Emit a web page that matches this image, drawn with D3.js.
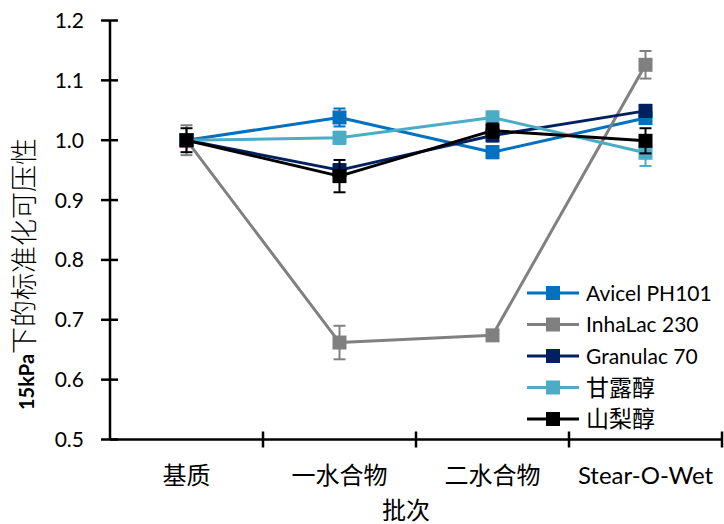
<!DOCTYPE html>
<html>
<head>
<meta charset="utf-8">
<script src="https://cdn.jsdelivr.net/npm/d3@7/dist/d3.min.js"></script>
<style>
  html, body { margin: 0; padding: 0; background: #fff; }
  svg text { font-family: Lato, "Noto Sans CJK SC", sans-serif; fill: #000; }
</style>
</head>
<body>
<svg id="chart" width="724" height="524"></svg>
<script>
// Batches on the x axis
const categories = ["基质", "一水合物", "二水合物", "Stear-O-Wet"];

// Series names, colours and normalised compressibility values (with error bars)
const seriesNames = ["Avicel PH101", "InhaLac 230", "Granulac 70", "甘露醇", "山梨醇"];
const seriesColors = ["#0070C0", "#808080", "#002060", "#4BACC6", "#000000"];

const avicelValues   = [1.000, 1.038, 0.980, 1.037];
const inhalacValues  = [1.000, 0.662, 0.674, 1.126];
const granulacValues = [1.000, 0.950, 1.008, 1.049];
const mannitolValues = [1.000, 1.004, 1.038, 0.979];
const sorbitolValues = [1.000, 0.940, 1.016, 0.999];

const avicelErrors   = [0.010, 0.015, 0.010, 0.010];
const inhalacErrors  = [0.025, 0.028, 0.006, 0.023];
const granulacErrors = [0.010, 0.010, 0.010, 0.010];
const mannitolErrors = [0.010, 0.010, 0.010, 0.022];
const sorbitolErrors = [0.020, 0.027, 0.012, 0.021];

const yTicks = [0.5, 0.6, 0.7, 0.8, 0.9, 1.0, 1.1, 1.2];

const seriesValues = [avicelValues, inhalacValues, granulacValues, mannitolValues, sorbitolValues];
const seriesErrors = [avicelErrors, inhalacErrors, granulacErrors, mannitolErrors, sorbitolErrors];
const series = seriesNames.map((name, i) => ({
  name, color: seriesColors[i],
  points: categories.map((c, j) => ({ cat: c, v: seriesValues[i][j], e: seriesErrors[i][j] }))
}));

// CJK labels are set a little larger than Latin ones in the legend
const isCJK = s => /[\u4e00-\u9fff]/.test(s);

const svg = d3.select("#chart");
const plot = { left: 110, right: 722, top: 20.5, bottom: 439.5 };

const x = d3.scaleBand().domain(categories).range([plot.left, plot.right]);
const y = d3.scaleLinear().domain([0.5, 1.2]).range([plot.bottom, plot.top]);
const cx = c => x(c) + x.bandwidth() / 2;

// Y axis with ticks crossing the line
const yAxis = svg.append("g");
yAxis.append("line")
  .attr("x1", plot.left).attr("x2", plot.left)
  .attr("y1", y(1.2)).attr("y2", y(0.5))
  .attr("stroke", "#000").attr("stroke-width", 2.5);
yAxis.selectAll(".yt").data(yTicks).join("line")
  .attr("x1", plot.left - 9).attr("x2", plot.left + 8)
  .attr("y1", d => y(d)).attr("y2", d => y(d))
  .attr("stroke", "#000").attr("stroke-width", 2.5);
yAxis.selectAll(".yl").data(yTicks).join("text")
  .attr("x", 84).attr("y", d => y(d))
  .attr("dy", "0.36em")
  .attr("text-anchor", "end")
  .attr("font-size", 21)
  .text(d => d.toFixed(1));

// X axis with ticks at band boundaries
const xAxis = svg.append("g");
xAxis.append("line")
  .attr("x1", plot.left).attr("x2", plot.right)
  .attr("y1", plot.bottom).attr("y2", plot.bottom)
  .attr("stroke", "#000").attr("stroke-width", 2.5);
const bounds = categories.map(c => x(c) + x.bandwidth());
xAxis.selectAll(".xt").data(bounds).join("line")
  .attr("x1", d => d).attr("x2", d => d)
  .attr("y1", plot.bottom - 8).attr("y2", plot.bottom + 8)
  .attr("stroke", "#000").attr("stroke-width", 2.5);
xAxis.selectAll(".xl").data(categories).join("text")
  .attr("x", d => cx(d)).attr("y", 484)
  .attr("text-anchor", "middle")
  .attr("font-size", 24)
  .text(d => d);

// Axis titles
svg.append("text")
  .attr("x", 406).attr("y", 519)
  .attr("text-anchor", "middle")
  .attr("font-size", 24)
  .text("批次");

const yTitle = svg.append("text")
  .attr("transform", "translate(34,274) rotate(-90)")
  .attr("text-anchor", "middle");
yTitle.append("tspan").attr("font-weight", "bold").attr("font-size", 20).text("15kPa");
yTitle.append("tspan").attr("font-weight", 300).attr("font-size", 27).text("下的标准化可压性");

// Series: line, error bars, then square markers
const line = d3.line().x(d => cx(d.cat)).y(d => y(d.v));
const ms = 14, cap = 6;
series.forEach(s => {
  const g = svg.append("g");
  g.append("path").datum(s.points)
    .attr("d", line).attr("fill", "none")
    .attr("stroke", s.color).attr("stroke-width", 3).attr("stroke-linejoin", "round");
  const eb = g.selectAll(".eb").data(s.points).join("g");
  eb.append("line")
    .attr("x1", d => cx(d.cat)).attr("x2", d => cx(d.cat))
    .attr("y1", d => y(d.v - d.e)).attr("y2", d => y(d.v + d.e))
    .attr("stroke", s.color).attr("stroke-width", 2);
  [1, -1].forEach(sign => {
    eb.append("line")
      .attr("x1", d => cx(d.cat) - cap).attr("x2", d => cx(d.cat) + cap)
      .attr("y1", d => y(d.v + sign * d.e)).attr("y2", d => y(d.v + sign * d.e))
      .attr("stroke", s.color).attr("stroke-width", 2);
  });
  g.selectAll(".mk").data(s.points).join("rect")
    .attr("x", d => cx(d.cat) - ms / 2).attr("y", d => y(d.v) - ms / 2)
    .attr("width", ms).attr("height", ms)
    .attr("fill", s.color);
});

// Legend
const legend = svg.append("g");
series.forEach((s, i) => {
  const ly = 293 + i * 31.5;
  legend.append("line")
    .attr("x1", 527).attr("x2", 579).attr("y1", ly).attr("y2", ly)
    .attr("stroke", s.color).attr("stroke-width", 3);
  legend.append("rect")
    .attr("x", 553 - ms / 2).attr("y", ly - ms / 2)
    .attr("width", ms).attr("height", ms).attr("fill", s.color);
  legend.append("text")
    .attr("x", 586).attr("y", ly).attr("dy", "0.36em")
    .attr("font-size", isCJK(s.name) ? 23 : 21)
    .text(s.name);
});
</script>
</body>
</html>
